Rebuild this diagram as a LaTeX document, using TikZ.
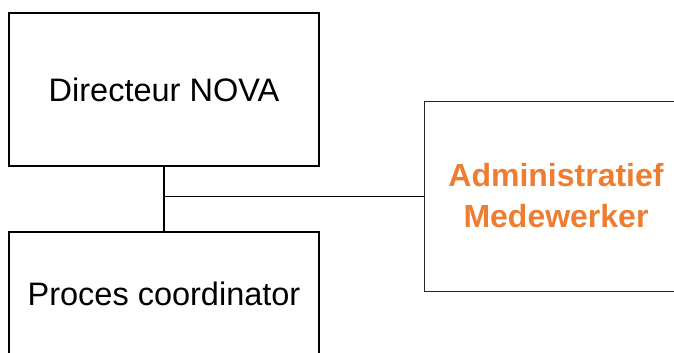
\documentclass[tikz,border=0pt]{standalone}
\usepackage{fontspec}
\setmainfont{Liberation Sans}
\definecolor{nova orange}{HTML}{ED7D31}
\begin{document}
\begin{tikzpicture}[x=1pt, y=-1pt,
    every node/.append style={font=\fontsize{32.5}{41}\selectfont, align=center},
    unitbox/.style={draw, line width=2pt, minimum width=310pt, inner sep=0pt},
    staffbox/.style={draw=black!85, line width=1pt, minimum width=264pt, minimum height=190pt,
                     inner sep=0pt, text=nova orange, font=\fontsize{32}{41}\selectfont\bfseries}]
  \useasboundingbox (0,0) rectangle (674,353);
  \node[unitbox, minimum height=153pt] (directeur) at (164,89.5) {Directeur NOVA};
  \node[unitbox, minimum height=124pt] (proces)    at (164,294)  {Proces coordinator};
  \node[staffbox] (admin) at (556,196) {Administratief\\Medewerker};
  % lijnen tussen de vakken
  \draw[line width=2pt] (directeur.south) -- (proces.north);
  \draw[line width=1pt] (admin.west) -- (directeur.south |- admin.west);
\end{tikzpicture}
\end{document}
